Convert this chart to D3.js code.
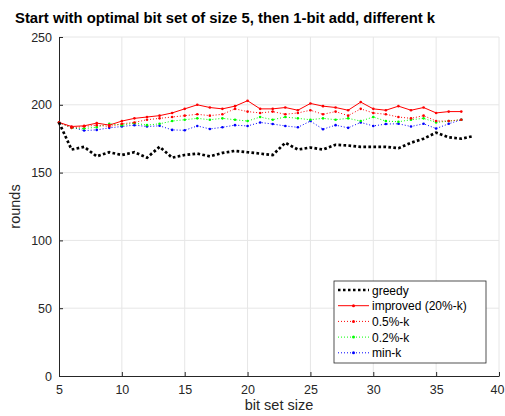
<!DOCTYPE html>
<html>
<head>
<meta charset="utf-8">
<script src="https://cdn.jsdelivr.net/npm/d3@7"></script>
<style>
  body { margin: 0; background: #fff; }
  text { font-family: "Liberation Sans", Arial, sans-serif; }
</style>
</head>
<body>
<div id="chart"></div>
<script>
// bit set sizes
const sizesGreedy = d3.range(5, 39);
const sizes = d3.range(5, 38);

const greedy = [187, 167, 169, 162, 165, 163, 165, 161, 169, 161, 163, 164, 162, 164.5, 166, 165, 164, 163,
  172, 167, 168.5, 167, 170.5, 170, 169, 169, 169, 168, 172, 175, 179.5, 176, 175, 177];
const improved = [187, 184, 184.5, 186.5, 185, 188, 190, 191, 192, 194, 197, 200, 198, 197, 199, 203, 197, 197,
  198, 196, 201, 199, 198, 196, 202, 197, 196, 199, 196, 198, 194, 195, 195];
const half = [187, 183, 184, 185, 184, 186, 187, 189, 190, 191, 192, 193, 192, 193, 197, 195, 194, 195,
  193, 194, 196, 193, 195, 192, 197, 194, 193, 191, 190, 192, 188, 188, 189];
const fifth = [187, 183, 182.5, 183.5, 186, 185, 186.5, 185, 186, 188, 189, 190, 189, 190, 189, 188, 191, 189,
  191, 190, 189, 190, 189, 190, 188, 191, 188, 187.5, 189, 190, 187, 188, 189];
const minK = [187, 183.5, 181, 181.5, 183, 184, 185, 184, 184.5, 181.5, 181.2, 184.4, 182.2, 183.4, 185, 184.4, 187, 185.8,
  184.4, 183.4, 188, 182, 185, 183, 187, 184.4, 185.8, 186, 184, 186, 182.5, 186, 189];

const xTicks = [5, 10, 15, 20, 25, 30, 35, 40];
const yTicks = [0, 50, 100, 150, 200, 250];

const W = 505, H = 416;
const margin = { top: 37, right: 6, bottom: 40, left: 59 };
const width = W - margin.left - margin.right;
const height = H - margin.top - margin.bottom;

const svg = d3.select("#chart").append("svg")
  .attr("width", W)
  .attr("height", H);

const g = svg.append("g")
  .attr("transform", `translate(${margin.left},${margin.top})`);

const x = d3.scaleLinear().domain([5, 40]).range([0, width]);
const y = d3.scaleLinear().domain([0, 250]).range([height, 0]);

// grid
g.append("g").selectAll("line").data(xTicks.slice(1)).join("line")
  .attr("x1", d => x(d)).attr("x2", d => x(d))
  .attr("y1", 0).attr("y2", height)
  .attr("stroke", "#e6e6e6");
g.append("g").selectAll("line").data(yTicks.slice(1)).join("line")
  .attr("x1", 0).attr("x2", width)
  .attr("y1", d => y(d)).attr("y2", d => y(d))
  .attr("stroke", "#e6e6e6");

// axes (ticks inward)
const xAxis = d3.axisBottom(x).tickValues(xTicks).tickSizeInner(-4).tickSizeOuter(0).tickPadding(9);
const yAxis = d3.axisLeft(y).tickValues(yTicks).tickSizeInner(-4).tickSizeOuter(0).tickPadding(7);

const gx = g.append("g").attr("transform", `translate(0,${height})`).call(xAxis);
const gy = g.append("g").call(yAxis);
[gx, gy].forEach(a => {
  a.select(".domain").attr("stroke", "#262626");
  a.selectAll(".tick line").attr("stroke", "#262626");
  a.selectAll(".tick text").attr("fill", "#262626").style("font-size", "12.5px")
    .style("font-family", "Liberation Sans, Arial, sans-serif");
});
// keep the last x label inside the window
gx.selectAll(".tick text").filter(d => d === 40).attr("dx", -2);

// lines
const lineG = d3.line().x((d, i) => x(sizesGreedy[i])).y(d => y(d));
const line = d3.line().x((d, i) => x(sizes[i])).y(d => y(d));

const series = [
  { name: "min-k", data: minK, color: "#0000ff", dash: "1,2" },
  { name: "0.2%-k", data: fifth, color: "#00ff00", dash: "1,2" },
  { name: "0.5%-k", data: half, color: "#ff0000", dash: "1,2" },
  { name: "improved (20%-k)", data: improved, color: "#ff0000", dash: null }
];

series.forEach(s => {
  g.append("path")
    .datum(s.data)
    .attr("fill", "none")
    .attr("stroke", s.color)
    .attr("stroke-width", 1)
    .attr("stroke-dasharray", s.dash)
    .attr("d", line);
  g.append("g").selectAll("circle").data(s.data).join("circle")
    .attr("cx", (d, i) => x(sizes[i]))
    .attr("cy", d => y(d))
    .attr("r", 1.3)
    .attr("fill", s.color);
});

g.append("path")
  .datum(greedy)
  .attr("fill", "none")
  .attr("stroke", "#000")
  .attr("stroke-width", 2.7)
  .attr("stroke-dasharray", "2.7,2.3")
  .attr("d", lineG);

// title and labels
svg.append("text")
  .attr("x", 15).attr("y", 23)
  .style("font-size", "14.5px").style("font-weight", "bold")
  .attr("textLength", 420)
  .attr("lengthAdjust", "spacingAndGlyphs")
  .text("Start with optimal bit set of size 5, then 1-bit add, different k");

svg.append("text")
  .attr("x", margin.left + width / 2).attr("y", 410)
  .attr("text-anchor", "middle")
  .attr("fill", "#262626")
  .style("font-size", "14.5px")
  .text("bit set size");

svg.append("text")
  .attr("transform", `translate(20,${margin.top + height / 2}) rotate(-90)`)
  .attr("text-anchor", "middle")
  .attr("fill", "#262626")
  .style("font-size", "14.5px")
  .text("rounds");

// legend
const legend = svg.append("g").attr("transform", "translate(334,281)");
legend.append("rect")
  .attr("width", 152).attr("height", 82)
  .attr("fill", "#fff").attr("stroke", "#262626").attr("stroke-width", 0.8);

const legendItems = [
  { name: "greedy", color: "#000", dash: "2.5,2.5", w: 2.5, marker: false },
  { name: "improved (20%-k)", color: "#ff0000", dash: null, w: 1, marker: true },
  { name: "0.5%-k", color: "#ff0000", dash: "1,2", w: 1, marker: true },
  { name: "0.2%-k", color: "#00ff00", dash: "1,2", w: 1, marker: true },
  { name: "min-k", color: "#0000ff", dash: "1,2", w: 1, marker: true }
];

legendItems.forEach((it, i) => {
  const ly = 9 + i * 15.7;
  legend.append("line")
    .attr("x1", 4).attr("x2", 35).attr("y1", ly).attr("y2", ly)
    .attr("stroke", it.color).attr("stroke-width", it.w)
    .attr("stroke-dasharray", it.dash);
  if (it.marker) {
    legend.append("circle").attr("cx", 19.5).attr("cy", ly).attr("r", 1.5).attr("fill", it.color);
  }
  legend.append("text")
    .attr("x", 38).attr("y", ly + 4.5)
    .style("font-size", "12px")
    .attr("fill", "#000")
    .text(it.name);
});
</script>
</body>
</html>
